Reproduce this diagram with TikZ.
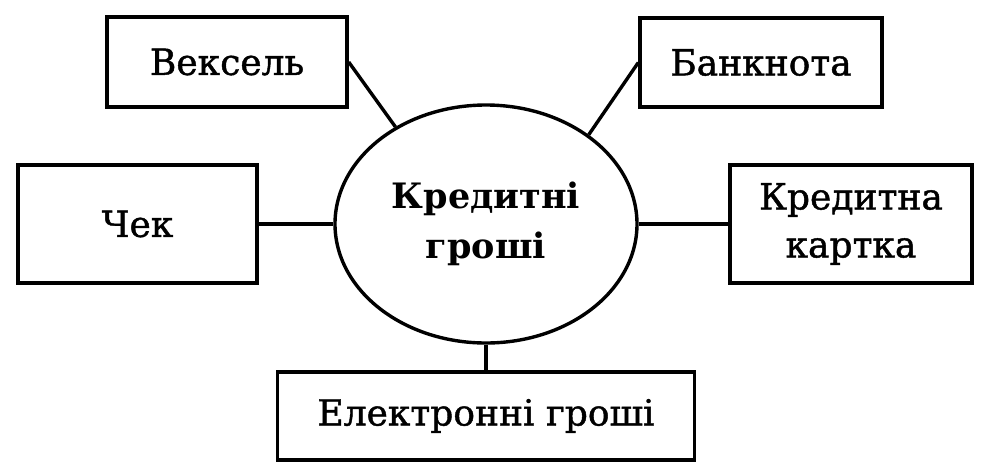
\documentclass[tikz,border=0pt]{standalone}
\usepackage{fontspec}
\setmainfont{DejaVu Serif}
\newfontfamily\boxfont{DejaVu Serif}[FakeBold=1.2]
\usetikzlibrary{shapes.geometric}
\begin{document}
\begin{tikzpicture}[x=1pt,y=-1pt,
  box/.style={draw,line width=3.4pt,rectangle,inner sep=0pt,align=center,
    font=\boxfont\fontsize{36}{48}\selectfont},
  hub/.style={draw,line width=3.4pt,ellipse,inner sep=0pt,minimum width=302pt,
    minimum height=238pt,align=center,font=\bfseries\fontsize{35}{50}\selectfont},
  link/.style={line width=3.4pt}]
\useasboundingbox (0,0) rectangle (990,475);
\node[hub] (c) at (486,224) {Кредитні\\гроші};
\node[box,minimum width=240pt,minimum height=90pt] (v) at (227,62) {Вексель};
\node[box,minimum width=242pt,minimum height=89pt] (b) at (761,62.5) {Банкнота};
\node[box,minimum width=239pt,minimum height=118pt] (ch) at (137.5,224) {Чек};
\node[box,minimum width=242pt,minimum height=118pt] (k) at (851,224) {Кредитна\\картка};
\node[box,minimum width=417pt,minimum height=88pt] (e) at (486,416) {Електронні гроші};
\draw[link] (v.east) -- (c.133);
\draw[link] (b.west) -- (c.41);
\draw[link] (ch.east) -- (c.west);
\draw[link] (c.east) -- (k.west);
\draw[link] (c.south) -- (e.north);
\end{tikzpicture}
\end{document}
